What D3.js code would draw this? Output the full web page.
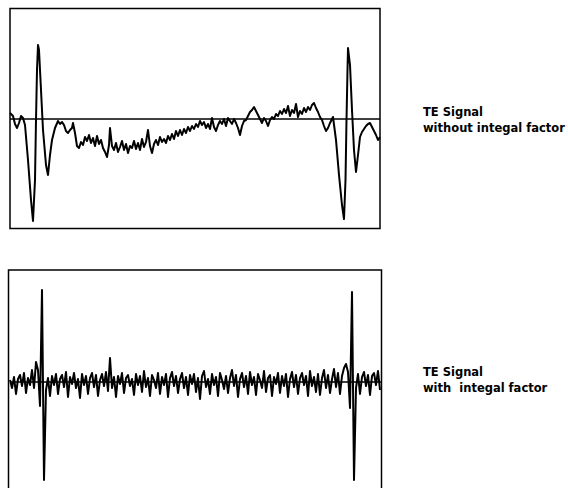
<!DOCTYPE html>
<meta charset="utf-8">
<head>
<style>
  body { margin: 0; background: #fff; }
  .frame, .zero { fill: none; stroke: #000; stroke-width: 1.5; }
  .trace { fill: none; stroke: #000; stroke-width: 2; stroke-linejoin: round; }
  .label { font: bold 11.5px "DejaVu Sans", sans-serif; fill: #000; white-space: pre; }
</style>
</head>
<body>
<script src="https://cdn.jsdelivr.net/npm/d3@7"></script>
<script>
// signal without integral factor: sample time and amplitude
var topT = [0,3,5,7,9,11,13,15,18,21,23,25,26,27,28,29,31,33,36,38,40,42,45,48,50,52,54,56,58,60,62,63,65,67,69,71,73,75,77,79,81,83,85,87,89,91,93,95,97,99,100,102,104,106,108,110,112,114,116,118,120,122,124,126,128,130,132,134,136,138,140,142,144,146,148,150,152,154,156,158,160,162,164,166,168,170,172,174,176,178,180,182,184,186,188,190,192,194,196,198,200,202,204,206,208,210,212,214,216,218,220,222,224,226,228,230,232,234,236,238,240,242,244,246,248,250,252,254,256,258,260,262,264,266,268,270,272,274,276,278,280,282,284,286,288,290,292,294,296,298,300,302,304,306,308,310,312,314,316,318,320,322,323,326,329,332,334,335.5,336.5,337.5,338,340,342,344,346,348,350,352,354,356,358,360,362,364,366,368,370];
var topV = [6,3,-5,-9,-4,3,1,-6,-41,-81,-102,-61,-1,49,74,69,29,-11,-46,-56,-36,-21,-9,-2,-5,-3,-6,-12,-14,-11,-9,-4,-14,-27,-29,-23,-26,-18,-22,-16,-24,-19,-27,-17,-25,-21,-29,-33,-38,-26,-9,-27,-31,-24,-33,-28,-22,-31,-25,-34,-27,-29,-22,-30,-24,-31,-20,-28,-23,-11,-27,-34,-25,-21,-26,-18,-23,-20,-24,-17,-21,-15,-20,-12,-17,-11,-16,-10,-14,-8,-12,-7,-10,-5,-8,-2,-6,-3,-9,-5,-10,1,-8,-12,-6,-2,-5,0,-7,1,-2,-5,0,-4,-9,-16,-7,-2,-1,3,7,9,12,8,4,0,-4,1,-2,-7,-1,2,0,5,3,8,5,10,6,13,3,9,6,15,2,8,5,11,7,12,9,14,16,11,7,2,-1,-7,-12,-9,-4,0,2,-21,-56,-86,-100,-61,-1,49,71,54,9,-31,-53,-36,-18,-13,-10,-7,-5,-4,-8,-12,-16,-21,-18];

// signal with integral factor: amplitude per sample, one sample every 2 time units
var sampleStep = 2;
var botV = [2,-6,5,-12,3,7,-4,9,-11,4,-3,12,-6,20,12,-24,92,-98,-8,4,-14,6,-3,8,-12,3,7,-5,10,-15,5,-2,9,-6,3,-16,8,-3,6,-12,4,9,-5,7,-14,2,8,-4,10,-9,24,-6,5,-15,6,-2,9,-11,4,7,-4,3,-13,8,-3,6,-10,11,-5,4,-14,7,2,-6,9,-12,5,-3,8,-15,4,10,-4,6,-11,3,9,-6,5,-13,7,-2,8,-10,4,-17,6,11,-5,3,-12,8,-3,5,-14,9,2,-7,6,-11,4,12,-4,7,-15,3,9,-5,6,-12,10,-3,5,-13,8,2,-6,11,-10,4,7,-14,5,-2,9,-11,6,-4,8,-15,3,10,-5,7,-12,4,9,-3,6,-14,11,-4,5,-10,8,-13,4,12,-6,7,-11,3,13,-5,9,-12,6,14,18,10,-26,90,-98,-6,8,-12,5,10,-4,7,-13,6,9,-3,11,-8];

var labels = [
  ["TE Signal", "without integal factor"],
  ["TE Signal", "with  integal factor"]
];

var svg = d3.select("body").append("svg")
    .attr("width", 568)
    .attr("height", 488);

var line = function(x, y) {
  return d3.line()
    .x(function(d) { return x(d[0]); })
    .y(function(d) { return y(d[1]); });
};

// top panel
var xTop = d3.scaleLinear().domain([0, 370]).range([10, 380]);
var yTop = d3.scaleLinear().domain([-110, 110]).range([229, 9]);

svg.append("rect").attr("class", "frame")
    .attr("x", xTop.range()[0]).attr("y", 8.5)
    .attr("width", xTop.range()[1] - xTop.range()[0])
    .attr("height", 220);

svg.append("line").attr("class", "zero")
    .attr("x1", xTop(0)).attr("x2", xTop(370))
    .attr("y1", yTop(0)).attr("y2", yTop(0));

svg.append("path").attr("class", "trace")
    .datum(topT.map(function(t, i) { return [t, topV[i]]; }))
    .attr("d", line(xTop, yTop));

// bottom panel
var xBot = d3.scaleLinear().domain([0, 370]).range([10, 380]);
var yBot = d3.scaleLinear().domain([-112, 112]).range([494, 270]);

svg.append("path").attr("class", "frame")
    .attr("d", "M8.5,488V" + yBot(112) + "H381.5V488");

svg.append("line").attr("class", "zero")
    .attr("x1", xBot(0)).attr("x2", xBot(371))
    .attr("y1", yBot(0)).attr("y2", yBot(0));

svg.append("path").attr("class", "trace")
    .datum(botV.map(function(v, i) { return [i * sampleStep, v]; }))
    .attr("d", line(xBot, yBot));

// labels
var labelY = [116, 376];
labels.forEach(function(l, k) {
  svg.append("text").attr("class", "label")
      .attr("x", 423).attr("y", labelY[k]).text(l[0]);
  svg.append("text").attr("class", "label")
      .attr("x", 423).attr("y", labelY[k] + 16).text(l[1]);
});
</script>
</body>
